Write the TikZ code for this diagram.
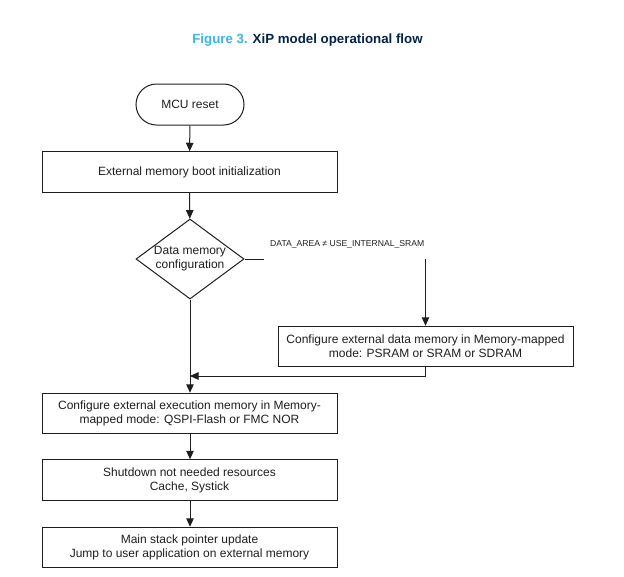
\documentclass[tikz,border=0pt]{standalone}
\usepackage{fontspec}
\setmainfont{Liberation Sans}
\usetikzlibrary{shapes.geometric,shapes.misc,arrows.meta}
\definecolor{stblue}{HTML}{3CB4E6}
\definecolor{stnavy}{HTML}{03234B}
\definecolor{ink}{HTML}{1E1E1E}
\tikzset{
  flow/.style={draw=ink, line width=1pt, text=ink, font=\fontsize{12}{14}\selectfont, align=center, inner sep=0pt},
  procbox/.style={flow, rectangle, minimum width=295pt, minimum height=40.5pt},
  startbox/.style={flow, rounded rectangle, minimum width=108pt, minimum height=41pt},
  decision/.style={flow, diamond, minimum width=108pt, minimum height=80pt},
  flowtext/.style={text=ink, font=\fontsize{12}{14}\selectfont, align=center, inner sep=0pt},
  conn/.style={draw=ink, line width=1pt},
  arr/.style={conn, -{Triangle[width=7.5pt,length=8.5pt]}},
  condlabel/.style={text=ink, font=\fontsize{8.6}{10}\selectfont, inner sep=0pt, anchor=west}
}
\begin{document}
\begin{tikzpicture}[x=1pt,y=-1pt]
\useasboundingbox (0,0) rectangle (624,576);
\node[font=\bfseries\fontsize{13.3}{15}\selectfont] (title) at (307.5,40)
  {\textcolor{stblue}{Figure 3.} \textcolor{stnavy}{XiP model operational flow}};
\node[startbox] (reset) at (190,104.5) {MCU reset};
\node[procbox] (boot) at (189.5,172) {External memory boot initialization};
\node[decision] (cfg) at (190,259) {};
\node[flowtext] (cfgtext) at (cfg.center) {Data memory\\configuration};
\node[procbox] (data) at (425.5,346.5) {Configure external data memory in Memory-mapped\\mode: PSRAM or SRAM or SDRAM};
\node[procbox] (exec) at (189.5,413.5) {Configure external execution memory in Memory-\\mapped mode: QSPI-Flash or FMC NOR};
\node[procbox] (shut) at (189.5,480) {Shutdown not needed resources\\Cache, Systick};
\node[procbox] (jump) at (189.5,547.5) {Main stack pointer update\\Jump to user application on external memory};
\node[condlabel] (cond) at (270,244) {DATA\_AREA ≠ USE\_INTERNAL\_SRAM};
\coordinate (condend) at (264,259);
\coordinate (condstart) at (425.5,259);
\coordinate (merge) at (190,376);
\draw[arr] (reset) -- (boot);
\draw[arr] (boot) -- (cfg);
\draw[conn] (cfg.east) -- (condend);
\draw[arr] (condstart) -- (data.north);
\draw[arr] (data.south) |- (merge);
\draw[arr] (cfg.south) -- (exec.north -| cfg.south);
\draw[arr] (exec.south -| cfg.south) -- (shut.north -| cfg.south);
\draw[arr] (shut.south -| cfg.south) -- (jump.north -| cfg.south);
\end{tikzpicture}
\end{document}
